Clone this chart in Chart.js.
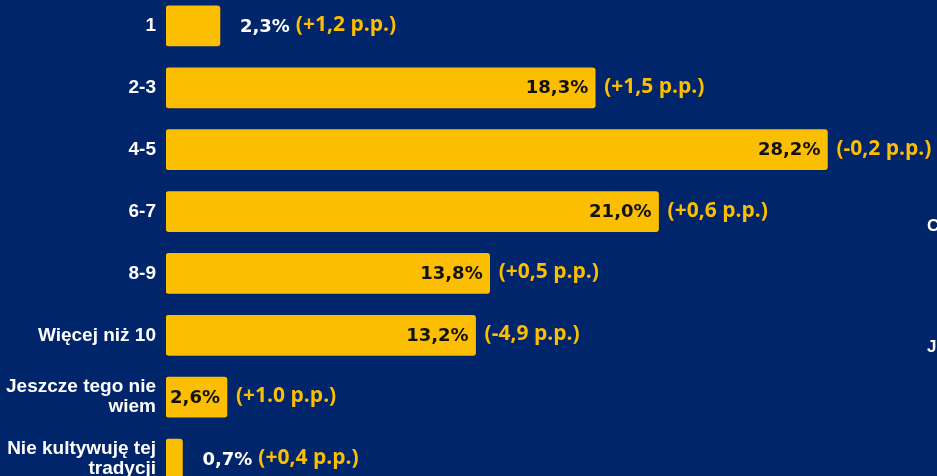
<!DOCTYPE html>
<html>
<head>
<meta charset="utf-8">
<script src="https://cdn.jsdelivr.net/npm/chart.js@4/dist/chart.umd.min.js"></script>
<style>
  html, body { margin: 0; padding: 0; background: #00256b; overflow: hidden; }
  #wrap { position: absolute; left: 0; top: -5px; width: 940px; height: 495px; }
</style>
</head>
<body>
<div id="wrap"><canvas id="myChart"></canvas></div>
<script>
// categories and values
const labels = [
    '1',
    '2-3',
    '4-5',
    '6-7',
    '8-9',
    'Więcej niż 10',
    ['Jeszcze tego nie', 'wiem'],
    ['Nie kultywuję tej', 'tradycji'],
];
const values = [2.3, 18.3, 28.2, 21.0, 13.8, 13.2, 2.6, 0.7];
const valueLabels = ['2,3%', '18,3%', '28,2%', '21,0%', '13,8%', '13,2%', '2,6%', '0,7%'];
const changeLabels = ['(+1,2 p.p.)', '(+1,5 p.p.)', '(-0,2 p.p.)', '(+0,6 p.p.)', '(+0,5 p.p.)', '(-4,9 p.p.)', '(+1.0 p.p.)', '(+0,4 p.p.)'];

const YELLOW = '#fbbe00';
const valueFont = 'bold 18px "DejaVu Sans"';
const changeFont = 'bold 21px "Open Sans"';

// value + change labels next to bars
const barLabels = {
    id: 'barLabels',
    afterDatasetsDraw(chart) {
        const ctx = chart.ctx;
        const meta = chart.getDatasetMeta(0);
        ctx.save();
        ctx.textBaseline = 'middle';
        meta.data.forEach((bar, i) => {
            const w = bar.x - bar.base;
            ctx.font = valueFont;
            const tw = ctx.measureText(valueLabels[i]).width;
            let changeX;
            if (tw + 8 < w) {
                ctx.fillStyle = '#111';
                ctx.textAlign = 'right';
                ctx.fillText(valueLabels[i], bar.x - 7, bar.y + 1);
                changeX = bar.x + 9;
            } else {
                ctx.fillStyle = '#fff';
                ctx.textAlign = 'left';
                ctx.fillText(valueLabels[i], bar.x + 20, bar.y + 1);
                changeX = bar.x + 20 + tw + 6;
            }
            ctx.font = changeFont;
            ctx.fillStyle = YELLOW;
            ctx.textAlign = 'left';
            ctx.fillText(changeLabels[i], changeX, bar.y - 1);
        });
        // cut-off text at the right edge
        ctx.font = 'bold 17px "Liberation Sans"';
        ctx.fillStyle = '#fff';
        ctx.textAlign = 'left';
        ctx.fillText('C', 927, 231);
        ctx.fillText('J', 927, 352);
        ctx.restore();
    }
};

const data = {
    labels: labels,
    datasets: [{
        data: values,
        backgroundColor: YELLOW,
        borderRadius: 3,
        borderSkipped: false,
        barThickness: 40,
    }]
};

const config = {
    type: 'bar',
    data,
    options: {
        indexAxis: 'y',
        responsive: true,
        maintainAspectRatio: false,
        animation: false,
        layout: { padding: 0 },
        plugins: {
            legend: { display: false },
            tooltip: { enabled: false },
        },
        scales: {
            x: {
                display: false,
                min: 0,
                max: 33,
            },
            y: {
                afterFit(scale) {
                    scale.width = 166;
                    scale.paddingTop = 0;
                    scale.paddingBottom = 0;
                },
                grid: { display: false, drawTicks: false },
                border: { display: false },
                ticks: {
                    color: '#fff',
                    padding: 10,
                    font: { family: 'Liberation Sans', size: 19, weight: 'bold', lineHeight: 1.05 },
                },
            },
        },
    },
    plugins: [barLabels],
};

var myChart = new Chart(
document.getElementById('myChart'),
config
);
</script>
</body>
</html>
